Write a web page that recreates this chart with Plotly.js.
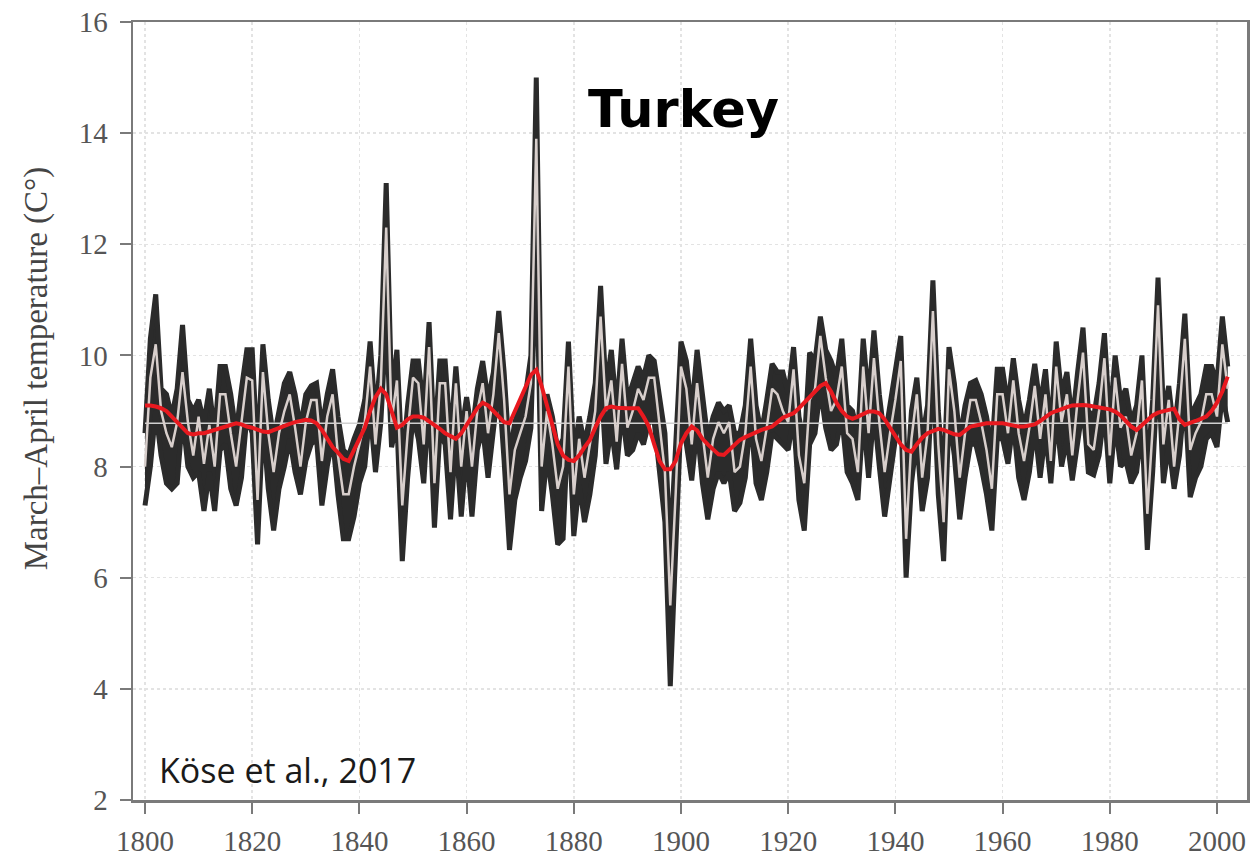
<!DOCTYPE html>
<html>
<head>
<meta charset="utf-8">
<script src="https://cdn.plot.ly/plotly-3.0.1.min.js"></script>
<style>html,body{margin:0;padding:0;background:#fff;}#chart{width:1258px;height:859px;}</style>
</head>
<body>
<div id="chart"></div>
<script>
// Years 1800-2002
var startYear = 1800;
var endYear = 2002;

// Reconstructed March–April temperature (light line)
var recon = [
8.0,9.6,10.2,9.0,8.6,8.35,8.8,9.7,8.8,8.2,
8.9,8.05,8.75,8.0,9.3,9.3,8.6,8.0,8.8,9.6,
9.55,7.4,9.7,8.6,7.9,8.6,9.0,9.3,8.7,8.0,
8.8,9.2,9.2,8.1,8.9,9.3,8.2,7.5,7.5,8.0,
8.4,8.8,9.8,8.4,9.5,12.3,8.8,9.55,7.3,8.6,
9.6,9.5,8.4,10.15,7.7,9.5,9.5,7.9,9.5,8.0,
9.0,8.0,9.0,9.5,8.6,9.3,10.4,9.2,7.5,8.3,
8.6,8.9,9.5,13.9,8.0,9.0,8.4,7.6,8.0,9.8,
7.5,8.5,7.8,8.4,9.0,10.7,9.0,9.55,8.45,9.85,
8.7,9.0,9.4,9.2,9.6,9.6,8.8,7.9,5.5,7.5,
9.8,9.4,8.4,9.5,8.6,7.8,8.5,8.8,8.6,8.8,
7.9,8.0,8.6,9.8,8.5,8.1,8.7,9.4,9.3,9.0,
8.8,9.75,8.2,7.7,9.2,9.4,10.35,9.6,9.0,9.2,
9.8,8.6,8.5,7.9,9.8,8.6,9.95,8.8,7.9,8.6,
9.2,9.9,6.7,8.5,9.3,7.8,8.6,10.8,8.4,7.0,
9.75,9.0,7.8,8.6,9.2,9.2,8.8,8.3,7.6,9.3,
9.3,8.6,9.55,8.6,8.1,8.7,9.45,8.5,9.3,8.1,
9.8,8.8,9.3,8.2,9.2,10.05,8.4,8.3,9.0,9.95,
8.2,9.6,8.7,8.9,8.2,8.6,9.55,7.15,8.7,10.9,
8.4,9.2,8.0,9.0,10.3,8.3,8.6,8.8,9.3,9.3,
8.9,10.2,9.4
];

// Upper bound of the uncertainty band
var upper = [
8.6,10.3,11.1,9.4,9.3,8.9,9.4,10.55,9.2,9.0,
9.2,8.8,9.4,8.6,9.8,9.8,9.3,8.6,9.4,10.1,
10.1,8.2,10.2,9.2,8.5,9.0,9.5,9.7,9.3,8.7,
9.3,9.45,9.5,8.7,9.3,9.75,8.9,8.3,8.2,8.5,
8.75,9.2,10.25,8.9,10.0,13.1,9.3,10.1,8.0,9.1,
9.9,9.9,9.0,10.6,8.4,9.9,9.9,8.5,9.8,8.6,
9.25,8.6,9.4,9.9,9.2,9.7,10.8,9.7,8.2,8.8,
9.1,9.3,10.0,15.0,8.6,9.3,8.9,8.3,8.5,10.25,
8.2,8.9,8.4,8.9,9.5,11.25,9.4,10.1,9.0,10.3,
9.2,9.5,9.8,9.6,10.0,9.9,9.3,8.6,6.5,8.2,
10.25,9.9,9.0,10.1,9.2,8.5,8.9,9.15,9.0,9.1,
8.6,8.6,9.1,10.3,9.1,8.6,9.2,9.85,9.7,9.7,
9.3,10.15,8.9,8.4,10.05,9.9,10.7,10.1,9.9,9.6,
10.3,9.1,9.0,8.6,10.3,9.2,10.45,9.3,8.5,9.1,
9.7,10.35,7.5,9.0,9.6,8.5,9.1,11.35,9.0,7.8,
10.15,9.5,8.5,9.1,9.5,9.55,9.3,8.9,8.3,9.75,
9.75,9.1,9.95,9.2,8.7,9.2,9.85,9.1,9.75,8.6,
10.25,9.3,9.7,8.8,9.7,10.5,9.0,8.9,9.5,10.4,
8.8,10.0,9.2,9.4,8.8,9.1,10.0,7.9,9.2,11.4,
9.0,9.45,8.6,9.5,10.75,8.9,9.1,9.3,9.8,9.8,
9.5,10.7,9.8
];

// Lower bound of the uncertainty band
var lower = [
7.3,8.0,9.0,8.2,7.7,7.6,7.7,8.9,8.0,7.8,
7.9,7.2,7.9,7.2,8.3,8.4,7.6,7.3,7.8,8.9,
8.6,6.6,8.8,7.6,6.85,7.6,8.0,8.5,7.9,7.5,
8.1,8.4,8.5,7.3,8.0,8.5,7.5,6.7,6.7,7.1,
7.7,8.0,9.0,7.9,8.8,10.6,8.35,8.8,6.3,7.8,
8.9,8.5,7.7,9.2,6.9,8.6,8.4,7.05,8.5,7.1,
8.3,7.1,8.3,8.7,7.8,8.6,9.5,8.1,6.5,7.4,
7.8,8.1,8.7,12.0,7.2,8.2,7.5,6.6,6.7,8.9,
6.75,7.7,7.0,7.5,8.2,9.7,8.05,8.7,7.95,9.0,
8.2,8.3,8.6,8.4,8.8,8.8,7.9,7.0,4.05,6.6,
8.9,8.4,7.75,8.7,7.7,7.05,7.6,7.9,7.7,7.9,
7.2,7.35,7.8,8.9,7.7,7.4,7.9,8.6,8.5,8.4,
8.3,8.9,7.4,6.85,8.4,8.6,9.4,8.7,8.3,8.4,
8.9,7.9,7.7,7.4,8.9,7.8,9.0,8.0,7.1,7.8,
8.5,9.0,6.0,7.7,8.5,7.2,7.8,9.8,7.5,6.3,
8.9,8.2,7.05,7.8,8.4,8.4,8.0,7.5,6.85,8.5,
8.5,8.05,8.8,7.8,7.4,7.9,8.7,7.8,8.6,7.7,
8.9,8.0,8.5,7.75,8.4,9.1,7.9,7.85,8.2,9.0,
7.7,8.8,8.0,8.1,7.7,7.9,8.7,6.5,7.9,9.8,
7.7,8.4,7.6,8.2,9.3,7.45,7.8,8.0,8.5,8.6,
8.35,9.3,8.8
];

// Smoothed series (red)
var smooth = [
9.1,9.1,9.08,9.05,9.0,8.9,8.8,8.7,8.6,8.58,
8.6,8.6,8.63,8.66,8.7,8.72,8.76,8.78,8.76,8.72,
8.7,8.66,8.63,8.62,8.66,8.7,8.73,8.77,8.8,8.82,
8.84,8.83,8.78,8.66,8.5,8.35,8.25,8.14,8.1,8.3,
8.5,8.7,9.0,9.25,9.4,9.3,9.0,8.7,8.75,8.85,
8.9,8.9,8.88,8.82,8.75,8.68,8.6,8.55,8.5,8.6,
8.75,8.9,9.05,9.15,9.1,9.0,8.9,8.8,8.78,9.0,
9.25,9.45,9.65,9.74,9.45,9.1,8.75,8.4,8.2,8.12,
8.1,8.2,8.35,8.48,8.7,8.9,9.05,9.08,9.06,9.05,
9.05,9.05,9.05,8.9,8.72,8.4,8.1,7.95,7.95,8.1,
8.42,8.6,8.72,8.65,8.5,8.4,8.3,8.22,8.21,8.3,
8.4,8.48,8.53,8.58,8.62,8.66,8.69,8.72,8.8,8.88,
8.92,8.96,9.05,9.15,9.25,9.35,9.45,9.5,9.35,9.15,
9.0,8.9,8.86,8.9,8.95,8.99,8.99,8.96,8.85,8.7,
8.55,8.4,8.3,8.27,8.4,8.52,8.6,8.65,8.68,8.66,
8.62,8.58,8.57,8.64,8.72,8.74,8.76,8.78,8.78,8.78,
8.78,8.76,8.74,8.72,8.72,8.74,8.76,8.82,8.9,8.96,
9.0,9.04,9.07,9.1,9.11,9.11,9.1,9.08,9.06,9.05,
9.03,8.99,8.92,8.82,8.72,8.66,8.75,8.85,8.92,8.97,
9.0,9.02,9.04,8.85,8.75,8.78,8.82,8.86,8.9,9.0,
9.15,9.35,9.62
];

// Long-term mean
var meanTemp = 8.78;

// Axis ticks
var xTicks = [1800,1820,1840,1860,1880,1900,1920,1940,1960,1980,2000];
var yTicks = [2,4,6,8,10,12,14,16];

var chartTitle = 'Turkey';
var sourceLabel = 'Köse et al., 2017';
var yTitle = 'March–April temperature (C°)';

var years = [];
for (var y = startYear; y <= endYear; y++) years.push(y);

var bandColor = '#2b2b2b';
var traces = [
  {x: years, y: lower, type: 'scatter', mode: 'lines',
   line: {color: bandColor, width: 5}, hoverinfo: 'skip', showlegend: false},
  {x: years, y: upper, type: 'scatter', mode: 'lines', fill: 'tonexty',
   fillcolor: bandColor, line: {color: bandColor, width: 5}, hoverinfo: 'skip', showlegend: false},
  {x: [years[0], years[years.length-1]], y: [meanTemp, meanTemp], type: 'scatter', mode: 'lines',
   line: {color: '#d0d0d0', width: 1.5}, hoverinfo: 'skip', showlegend: false},
  {x: years, y: recon, type: 'scatter', mode: 'lines',
   line: {color: '#d8cfcc', width: 2.5}, hoverinfo: 'skip', showlegend: false},
  {x: years, y: smooth, type: 'scatter', mode: 'lines',
   line: {color: '#e8191f', width: 4}, hoverinfo: 'skip', showlegend: false}
];

var serif = 'Liberation Serif, Times New Roman, serif';
var axisCommon = {
  showline: true, mirror: true, linecolor: '#7a7a7a', linewidth: 2.5,
  ticks: 'outside', ticklen: 11, tickwidth: 2, tickcolor: '#7a7a7a',
  showgrid: true, gridcolor: '#e3e3e3', griddash: 'dot', gridwidth: 1.5,
  zeroline: false,
  tickfont: {family: serif, size: 29, color: '#555'}
};

var layout = {
  width: 1258, height: 859,
  margin: {l: 133, r: 11, t: 22, b: 59},
  paper_bgcolor: '#fff', plot_bgcolor: '#fff',
  showlegend: false,
  xaxis: Object.assign({}, axisCommon, {
    range: [1797.76, 2005.6], tickmode: 'array', tickvals: xTicks,
    ticktext: xTicks.map(String), ticklabelstandoff: 3
  }),
  yaxis: Object.assign({}, axisCommon, {
    range: [2, 16], tickmode: 'array', tickvals: yTicks,
    ticktext: yTicks.map(String), ticklabelstandoff: 6
  }),
  annotations: [
    {text: yTitle, xref: 'paper', yref: 'paper', x: -0.087, y: 0.555,
     xanchor: 'center', yanchor: 'middle', textangle: -90, showarrow: false,
     font: {family: serif, size: 33, color: '#444'}},
    {text: '<b>' + chartTitle + '</b>', xref: 'paper', yref: 'paper', x: 0.494, y: 0.887,
     xanchor: 'center', yanchor: 'middle', showarrow: false,
     font: {family: 'DejaVu Sans, sans-serif', size: 51, color: '#000'}},
    {text: sourceLabel, xref: 'paper', yref: 'paper', x: 0.0215, y: 0.0386,
     xanchor: 'left', yanchor: 'middle', showarrow: false,
     font: {family: 'Open Sans, sans-serif', size: 34, color: '#1a1a1a'}}
  ]
};

Plotly.newPlot('chart', traces, layout, {staticPlot: true, displayModeBar: false});
</script>
</body>
</html>
